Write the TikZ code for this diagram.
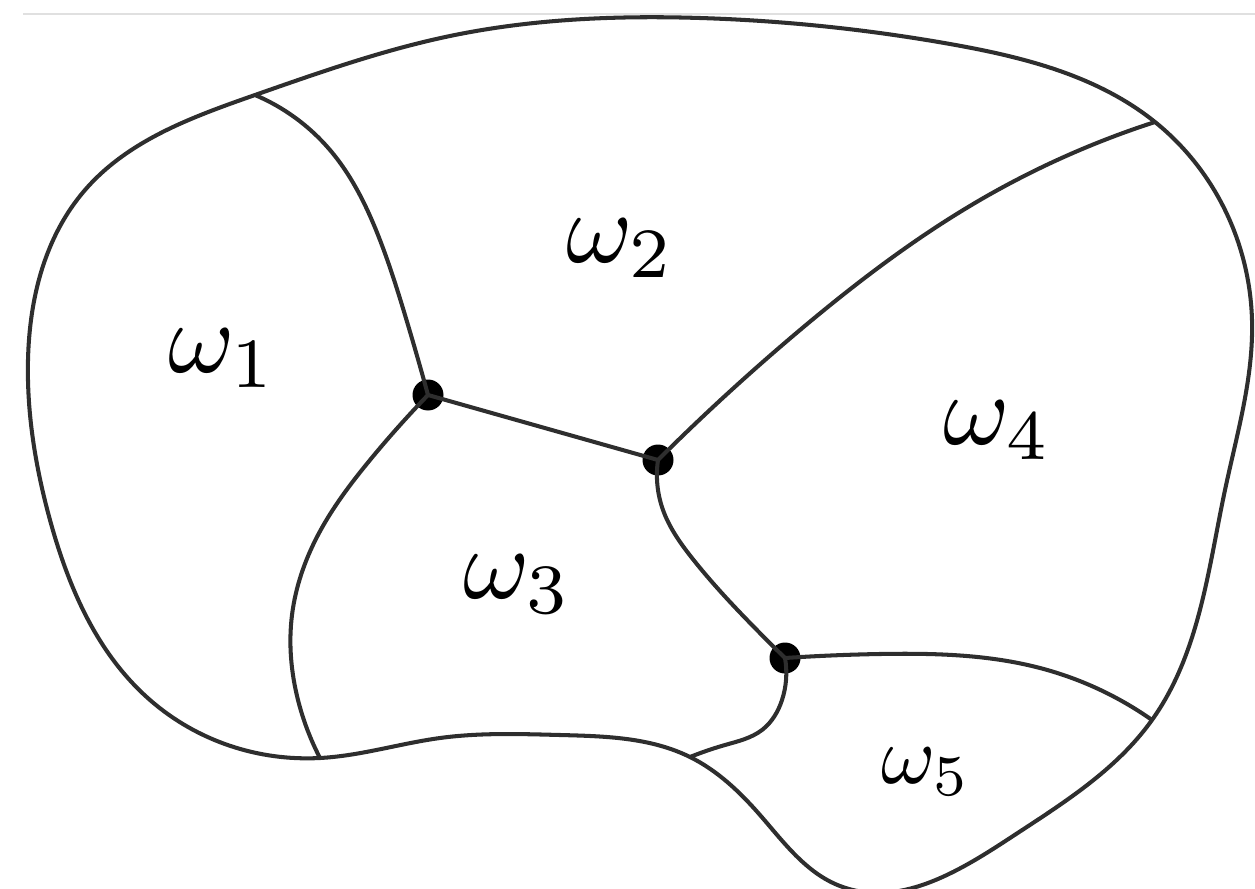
\documentclass[tikz,border=0pt]{standalone}
\usetikzlibrary{hobby}
\begin{document}
\begin{tikzpicture}[x=0.02cm,y=-0.02cm,
  edge/.style={draw=black!82,line width=2.3pt},
  junction/.style={circle,fill=black,inner sep=0pt,minimum size=0.62cm},
  lbl/.style={scale=5.75,inner sep=0pt},
  lblsmall/.style={scale=4.7,inner sep=0pt}]
\useasboundingbox (0,0) rectangle (1255,889);
\draw[black!12,line width=1.2pt] (23,14) -- (1255,14);
% boundary junction points
\coordinate (P1) at (255,95);
\coordinate (P2) at (1155,122);
\coordinate (P3) at (1152,720);
\coordinate (P4) at (690,757);
\coordinate (P5) at (320,758);
% interior junctions
\node[junction] (A) at (428,395) {};
\node[junction] (B) at (658,460) {};
\node[junction] (C) at (785,658) {};
% outer boundary
\draw[edge,use Hobby shortcut,closed=true]
 (P1) .. (450,36) .. (700,18) .. (950,44) .. (P2)
 .. (1225,210) .. (1252,320) .. (1225,490) .. (P3)
 .. (1010,838) .. (840,886) .. (760,815) .. (P4)
 .. (560,735) .. (440,738) .. (P5)
 .. (150,700) .. (50,520) .. (28,360) .. (85,190) .. (P1);
% interior edges
\draw[edge,use Hobby shortcut] (P1) .. (330,150) .. (378,235) .. (405,315) .. (A.center);
\draw[edge] (A.center) -- (B.center);
\draw[edge,use Hobby shortcut] (B.center) .. (800,330) .. (980,200) .. (P2);
\draw[edge,use Hobby shortcut] (A.center) .. (370,460) .. (318,535) .. (292,615) .. (298,700) .. (P5);
\draw[edge,use Hobby shortcut] (B.center) .. (663,510) .. (692,558) .. (752,625) .. (C.center);
\draw[edge,use Hobby shortcut] (C.center) .. (880,654) .. (1040,668) .. (P3);
\draw[edge,use Hobby shortcut] (C.center) .. (782,700) .. (762,730) .. (725,745) .. (P4);
% labels
\node[lbl] (w1) at (223,358) {$\omega_1$};
\node[lbl] (w2) at (621,248) {$\omega_2$};
\node[lbl] (w3) at (518,584) {$\omega_3$};
\node[lbl] (w4) at (998,430) {$\omega_4$};
\node[lblsmall] (w5) at (926,772) {$\omega_5$};
\end{tikzpicture}
\end{document}
